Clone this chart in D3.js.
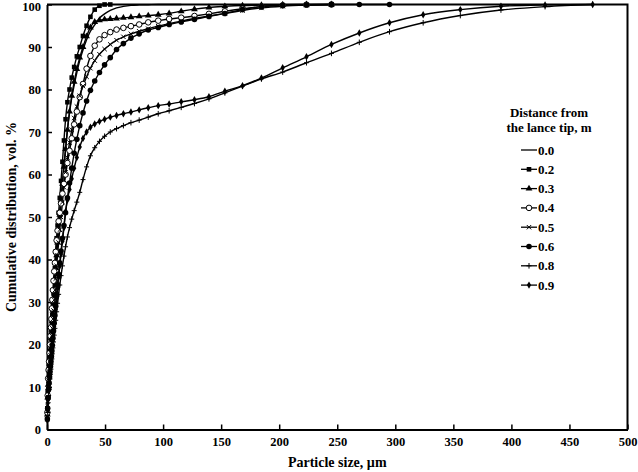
<!DOCTYPE html>
<html><head><meta charset="utf-8">
<script src="https://cdn.jsdelivr.net/npm/d3@7"></script>
<style>
body{margin:0;background:#fff}
svg{display:block}
text{font-family:"Liberation Serif","Times New Roman",serif;font-weight:bold;fill:#000}
</style>
</head><body>
<svg id="c" width="638" height="472"></svg>
<script>
// Particle size bins (µm)
const sizes = [0.3,0.6,1.0,1.4,1.8,2.2,2.6,3.0,3.4,3.8,
  4.2,4.6,5.1,5.6,6.2,6.8,7.5,8.3,9.1,10.0,
  11.0,12.1,13.3,14.6,16.0,17.6,19.4,21.3,23.4,25.7,
  28.2,31.0,34.1,37.4,41.1,45.2,49.6,54.5,59.9,65.8,
  72.3,79.4,87.2,95.8,105.2,115.6,127.0,139.5,153.2,168.4,
  184.7,203.0,223.5,245.0,269.0,295.0,324.0,356.0,391.0,429.0,470.0];

const seriesNames = ["0.0","0.2","0.3","0.4","0.5","0.6","0.8","0.9"];

const s00 = [4,8,11,13,14.5,16,17.5,19,20.5,22,
  24,26,28.5,30.5,33,35.5,38.5,41.5,44.5,47.5,
  51,54.5,58,62,66,70.5,74.5,78,81,84,
  86.8,89.3,91.7,93.7,95.2,96.8,97.8,98.6,99.2,99.55,
  99.8,99.9,99.95,100,100,100,null,null,null,null,
  null,null,null,null,null,null,null,null,null,null,null];
const s02 = [5,9,12,14,15.5,17,18.5,20,21.5,23,
  25,27,29.5,32,35,38,41.8,45,48,51,
  54.5,58.5,63,68,73,77,80,82.8,85.3,87.8,
  90,92.6,95,97.1,98.8,99.7,100,100,null,null,
  null,null,null,null,null,null,null,null,null,null,
  null,null,null,null,null,null,null,null,null,null,null];
const s03 = [3.5,7.5,10.5,12.5,14,15.5,17,18.5,20,21.5,
  23.5,25.5,28,30,32.5,35,38,41,44,47,
  50.5,54,57.8,61.8,66,70.5,74.8,78.5,81.8,84.8,
  87.5,90,92.5,94.6,95.9,96.3,96.5,96.6,96.7,96.85,
  97,97.2,97.4,97.6,97.9,98.4,98.9,99.3,99.55,99.75,
  99.85,99.95,100,100,null,null,null,null,null,null,null];
const s04 = [4,8,12,14,16,18,20,22,24,26,
  28.5,30.5,32.8,35,37.2,39.2,41.8,44.5,46.8,49,
  51,53.2,55.5,57.8,60,62.7,65.6,68.5,71.8,74.8,
  78.2,81.3,84.9,87.9,90.3,91.8,92.8,93.5,94.1,94.5,
  94.9,95.3,95.8,96.2,96.6,96.9,97.3,97.8,98.4,99,
  99.5,99.8,99.95,100,null,null,null,null,null,null,null];
const s05 = [3,6.5,9.5,11.5,13,14.5,16,17.5,19,20.5,
  22,23.8,26,28,30.5,32.8,35.5,38.5,41,44,
  47,50,53.5,57,60.5,64,67.5,70.5,73.3,76,
  78.5,80.8,83,85,86.8,88.3,89.5,90.6,91.6,92.4,
  93.1,93.7,94.3,94.9,95.5,96.1,96.7,97.3,97.9,98.6,
  99.2,99.6,99.85,100,null,null,null,null,null,null,null];
const s06 = [2.5,5,7.5,9.5,11,12.4,13.6,14.8,16,17.2,
  18.5,19.8,21.5,23.2,25,26.8,29,31.5,34,36.5,
  39.2,42,45,48,51,54.5,58,61.5,65,68.3,
  71.5,74.5,77.3,79.8,82,84,85.8,87.5,89.4,90.8,
  92.1,93.1,94,94.6,95.3,95.9,96.5,97.2,97.9,98.8,
  99.5,99.8,99.95,100,100,100,null,null,null,null,null];
const s08 = [2,4,6.3,8,9.4,10.7,11.9,13,14.2,15.4,
  16.6,17.8,19.2,20.6,22.2,23.8,25.7,27.7,29.7,31.8,
  34,36.2,38.5,40.8,43,45.3,47.5,49.5,51.5,53.5,
  55.8,58.8,61.8,64.4,66.3,67.8,69,70,70.8,71.5,
  72.2,72.8,73.5,74.3,75,75.8,76.7,77.8,79.2,80.8,
  82.5,84.1,86.3,88.5,91.1,93.6,95.7,97.4,98.7,99.5,100];
const s09 = [2.2,4.5,7,9,10.5,11.8,13,14.2,15.4,16.6,
  17.9,19.2,20.8,22.5,24.3,26.1,28.3,30.8,33.2,35.8,
  38.5,41.3,44.3,47.5,51.3,54,56.5,59,61.5,64,
  66.5,68.5,70,71.1,71.9,72.5,73,73.5,73.9,74.3,
  74.7,75.2,75.7,76.2,76.6,77.1,77.6,78.3,79.6,80.9,
  82.7,85.1,87.7,90.6,93.3,95.7,97.6,98.8,99.6,99.9,100];

const xTicks = [0,50,100,150,200,250,300,350,400,450,500];
const yTicks = [0,10,20,30,40,50,60,70,80,90,100];
const legendTitle = ["Distance from","the lance tip, m"];
const xTitle = "Particle size, µm";
const yTitle = "Cumulative distribution, vol. %";

const allSeries = [s00,s02,s03,s04,s05,s06,s08,s09];
const markerKinds = ["none","square","triangle","ocircle","xmark","fcircle","plus","diamond"];

const svg = d3.select("#c");
const L=47, R=627.5, T=4.5, B=429.5;
const x = d3.scaleLinear().domain([0,500]).range([L,R]);
const y = d3.scaleLinear().domain([0,100]).range([B,T]);

// axes
const gx = svg.append("g").attr("transform",`translate(0,${B})`)
  .call(d3.axisBottom(x).tickValues(xTicks).tickSizeInner(-5).tickSizeOuter(0).tickPadding(8));
const gy = svg.append("g").attr("transform",`translate(${L},0)`)
  .call(d3.axisLeft(y).tickValues(yTicks).tickSizeInner(-5).tickSizeOuter(0).tickPadding(6));
[gx,gy].forEach(g=>{
  g.selectAll("path.domain").attr("stroke","#000").attr("stroke-width",2);
  g.selectAll(".tick line").attr("stroke","#000").attr("stroke-width",1.5);
  g.selectAll(".tick text").style("font-size","12.5px").style("font-family",'"Liberation Serif","Times New Roman",serif').style("font-weight","bold");
});
// keep the top label fully inside the picture
gy.selectAll(".tick text").filter(d=>d===100).attr("dy","0.5em");
// frame top / right
svg.append("path").attr("d",`M${L},${T}H${R}V${B}`).attr("fill","none").attr("stroke","#000").attr("stroke-width",2);

// titles
svg.append("text").attr("x",(L+R)/2).attr("y",467).attr("text-anchor","middle").style("font-size","14px").text(xTitle);
svg.append("text").attr("transform",`translate(11,${(T+B)/2}) rotate(-90)`).attr("text-anchor","middle")
  .attr("dominant-baseline","central").style("font-size","14px").text(yTitle);

// marker drawing
function drawMarker(g, kind){
  if(kind==="square") g.append("rect").attr("x",-2.3).attr("y",-2.3).attr("width",4.6).attr("height",4.6).attr("fill","#000");
  else if(kind==="triangle") g.append("path").attr("d",d3.symbol(d3.symbolTriangle,20)()).attr("fill","#000");
  else if(kind==="ocircle") g.append("circle").attr("r",2.8).attr("fill","#fff").attr("stroke","#000").attr("stroke-width",1);
  else if(kind==="fcircle") g.append("circle").attr("r",2.8).attr("fill","#000");
  else if(kind==="xmark") g.append("path").attr("d","M-2.2,-2.2L2.2,2.2M-2.2,2.2L2.2,-2.2").attr("stroke","#000").attr("stroke-width",1);
  else if(kind==="plus") g.append("path").attr("d","M-2.5,0H2.5M0,-2.8V2.8").attr("stroke","#000").attr("stroke-width",1);
  else if(kind==="diamond") g.append("path").attr("d",d3.symbol(d3.symbolDiamond,16)()).attr("fill","#000");
}

const line = d3.line().defined(d=>d[1]!==null).x(d=>x(d[0])).y(d=>y(d[1])).curve(d3.curveMonotoneX);
const plot = svg.append("g");
allSeries.forEach((vals,i)=>{
  const pts = sizes.map((s,j)=>[s,vals[j]]);
  plot.append("path").attr("d",line(pts)).attr("fill","none").attr("stroke","#000").attr("stroke-width",1.4);
});
allSeries.forEach((vals,i)=>{
  const kind = markerKinds[i];
  if(kind==="none") return;
  sizes.forEach((s,j)=>{
    if(vals[j]===null) return;
    const g = plot.append("g").attr("transform",`translate(${x(s)},${y(vals[j])})`);
    drawMarker(g,kind);
  });
});

// legend
const lg = svg.append("g");
legendTitle.forEach((t,i)=>{
  lg.append("text").attr("x",549).attr("y",112+15*i).attr("text-anchor","middle")
    .attr("dominant-baseline","central").style("font-size","13px").text(t);
});
seriesNames.forEach((n,i)=>{
  const yy = 150 + i*19.3;
  lg.append("line").attr("x1",521).attr("x2",537).attr("y1",yy).attr("y2",yy).attr("stroke","#000").attr("stroke-width",1.3);
  const g = lg.append("g").attr("transform",`translate(529,${yy})`);
  if(markerKinds[i]!=="none") drawMarker(g,markerKinds[i]);
  lg.append("text").attr("x",538).attr("y",yy).attr("dominant-baseline","central").style("font-size","13px").text(n);
});
</script>
</body></html>
